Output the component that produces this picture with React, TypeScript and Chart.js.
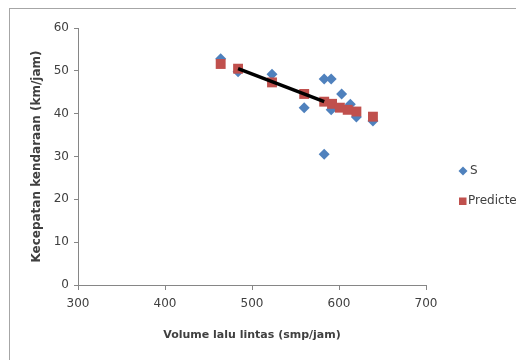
import React, { useEffect, useRef } from "react";
import { Chart, registerables } from "chart.js";

Chart.register(...registerables);

const sVolume = [464, 484, 523, 560, 583, 591, 583, 591, 603, 613, 620, 639];
const sSpeed = [52.8, 49.8, 49.2, 41.4, 48.1, 48.1, 30.5, 40.9, 44.6, 42.2, 39.2, 38.3];
const predVolume = [464, 484, 523, 560, 583, 592, 601, 610, 620, 639];
const predSpeed = [51.6, 50.5, 47.3, 44.6, 42.8, 42.3, 41.4, 40.9, 40.5, 39.3];
const lineVolume = [484, 583];
const lineSpeed = [50.5, 42.8];
const legendLabels = ["S", "Predicted"];
const xTitle = "Volume lalu lintas (smp/jam)";
const yTitle = "Kecepatan kendaraan (km/jam)";

const BLUE = "#4F81BD";
const RED = "#C0504D";
const TEXT = "#404040";
const AXIS = "#868686";
const FONT = "'DejaVu Sans', sans-serif";

const framePlugin = {
  id: "frame",
  beforeDraw(chart: any) {
    const ctx = chart.ctx;
    ctx.save();
    ctx.fillStyle = "#ffffff";
    ctx.fillRect(0, 0, chart.width, chart.height);
    ctx.strokeStyle = "#a6a6a6";
    ctx.lineWidth = 1;
    ctx.strokeRect(9.5, 8.5, chart.width + 50, chart.height + 50);
    ctx.restore();
  },
  afterDraw(chart: any) {
    const ctx = chart.ctx;
    const area = chart.chartArea;
    ctx.save();
    ctx.font = `12px ${FONT}`;
    ctx.textBaseline = "middle";
    const lx = area.right + 37;
    const y1 = 171;
    const y2 = 201;
    ctx.fillStyle = BLUE;
    ctx.beginPath();
    ctx.moveTo(lx, y1 - 4.5);
    ctx.lineTo(lx + 4.5, y1);
    ctx.lineTo(lx, y1 + 4.5);
    ctx.lineTo(lx - 4.5, y1);
    ctx.closePath();
    ctx.fill();
    ctx.fillStyle = RED;
    ctx.fillRect(lx - 4, y2 - 3.5, 7.5, 7.5);
    ctx.fillStyle = TEXT;
    ctx.fillText(legendLabels[0], lx + 7, y1);
    ctx.fillText(legendLabels[1], lx + 5, y2);
    ctx.restore();
  },
};

export default function App() {
  const ref = useRef<HTMLCanvasElement | null>(null);
  useEffect(() => {
    if (!ref.current) return;
    const chart = new Chart(ref.current, {
      type: "scatter",
      data: {
        datasets: [
          {
            label: "trend",
            data: lineVolume.map((x, i) => ({ x, y: lineSpeed[i] })),
            showLine: true,
            borderColor: "#000000",
            borderWidth: 3.5,
            pointRadius: 0,
            order: 0,
          },
          {
            label: legendLabels[1],
            data: predVolume.map((x, i) => ({ x, y: predSpeed[i] })),
            pointStyle: "rect",
            pointRadius: 7,
            backgroundColor: RED,
            borderColor: RED,
            borderWidth: 0,
            order: 1,
          },
          {
            label: legendLabels[0],
            data: sVolume.map((x, i) => ({ x, y: sSpeed[i] })),
            pointStyle: "rectRot",
            pointRadius: 5.5,
            backgroundColor: BLUE,
            borderColor: BLUE,
            borderWidth: 0,
            order: 2,
          },
        ],
      },
      options: {
        responsive: false,
        animation: false,
        devicePixelRatio: 1,
        layout: { padding: { left: 0, top: 28, right: 174, bottom: 15 } },
        plugins: { legend: { display: false }, tooltip: { enabled: false } },
        scales: {
          x: {
            type: "linear",
            min: 300,
            max: 700,
            ticks: { stepSize: 100, color: TEXT, font: { family: FONT, size: 12 }, padding: 7 },
            grid: { drawOnChartArea: false, drawTicks: true, tickLength: 5, color: AXIS },
            border: { display: true, color: AXIS, width: 1 },
            title: {
              display: true,
              text: xTitle,
              color: TEXT,
              font: { family: FONT, size: 11, weight: "bold" },
              padding: { top: 0, bottom: 3 },
            },
            afterFit(scale: any) {
              scale.height = 60;
            },
          },
          y: {
            type: "linear",
            min: 0,
            max: 60,
            ticks: { stepSize: 10, color: TEXT, font: { family: FONT, size: 12 }, padding: 5 },
            grid: { drawOnChartArea: false, drawTicks: true, tickLength: 4, color: AXIS },
            border: { display: true, color: AXIS, width: 1 },
            title: {
              display: true,
              text: yTitle,
              color: TEXT,
              font: { family: FONT, size: 12, weight: "bold" },
              padding: { top: 30, bottom: 0 },
            },
            afterFit(scale: any) {
              scale.width = 78;
            },
          },
        },
      },
      plugins: [framePlugin],
    });
    return () => chart.destroy();
  }, []);
  return (
    <div style={{ position: "fixed", left: 0, top: 0, width: 516, height: 360, overflow: "hidden", background: "#fff" }}>
      <canvas ref={ref} width={600} height={360} style={{ width: 600, height: 360, display: "block" }} />
    </div>
  );
}
